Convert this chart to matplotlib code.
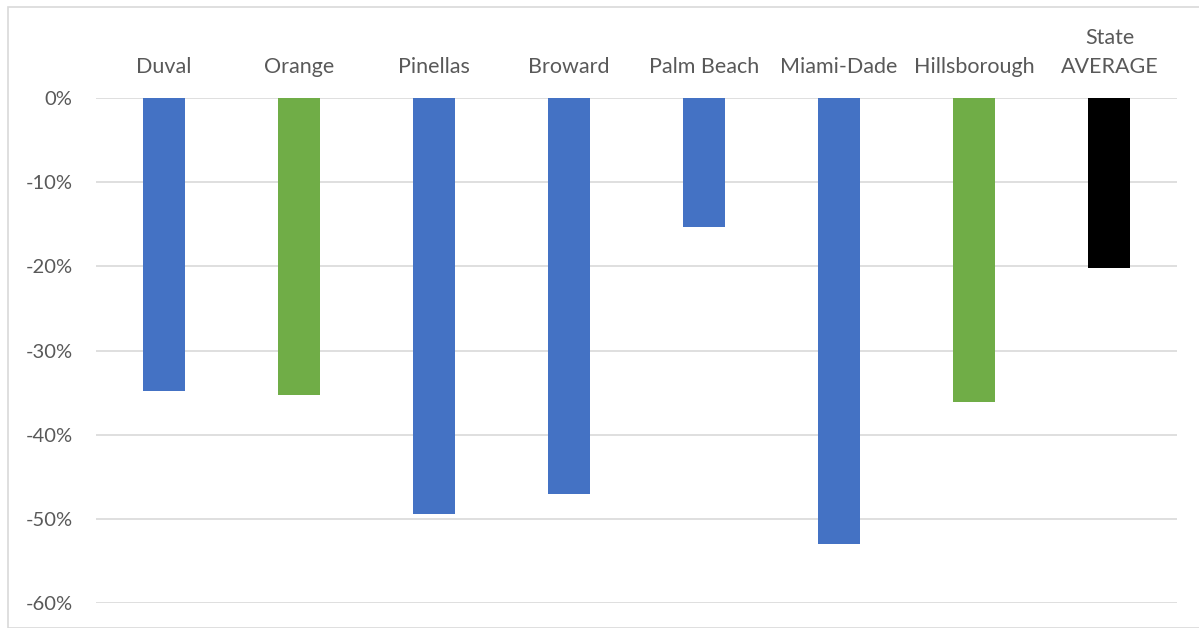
import matplotlib.pyplot as plt
from matplotlib.patches import Rectangle
from matplotlib.ticker import FuncFormatter

# Percent change by county
counties = ['Duval', 'Orange', 'Pinellas', 'Broward', 'Palm Beach',
            'Miami-Dade', 'Hillsborough', 'State\nAVERAGE']
pct_change = [-34.8, -35.3, -49.4, -47.1, -15.3, -53.0, -36.1, -20.2]
bar_colors = ['#4472C4', '#70AD47', '#4472C4', '#4472C4', '#4472C4',
              '#4472C4', '#70AD47', '#000000']
y_ticks = [0, -10, -20, -30, -40, -50, -60]

plt.rcParams['font.family'] = ['Lato', 'DejaVu Sans']
text_color = '#595959'

fig = plt.figure(figsize=(11.99, 6.28), dpi=100)
W, H = 1199, 628
ax = fig.add_axes([96 / W, (H - 603) / H, (1177 - 96) / W, (603 - 98) / H])

# chart area border
fig.patches.append(Rectangle((8 / W, 0), 1.0, (H - 7) / H, transform=fig.transFigure,
                             fill=False, edgecolor='#D9D9D9', linewidth=1.2, zorder=0))

x = range(len(counties))
ax.bar(x, pct_change, width=0.31, color=bar_colors, zorder=3)

ax.set_xlim(-0.5, len(counties) - 0.5)
ax.set_ylim(-60, 0)
ax.set_yticks(y_ticks)
ax.yaxis.set_major_formatter(FuncFormatter(lambda v, p: f'{v:.0f}%'))
ax.grid(axis='y', color='#D9D9D9', linewidth=1.2, zorder=0)

ax.xaxis.tick_top()
ax.set_xticks(list(x))
ax.set_xticklabels(counties, linespacing=1.55)
ax.tick_params(axis='x', length=0, pad=15, labelsize=15.5, labelcolor=text_color)
ax.tick_params(axis='y', length=0, pad=17, labelsize=14.5, labelcolor=text_color)

for s in ax.spines.values():
    s.set_visible(False)

fig.savefig('out.png', dpi=100)
